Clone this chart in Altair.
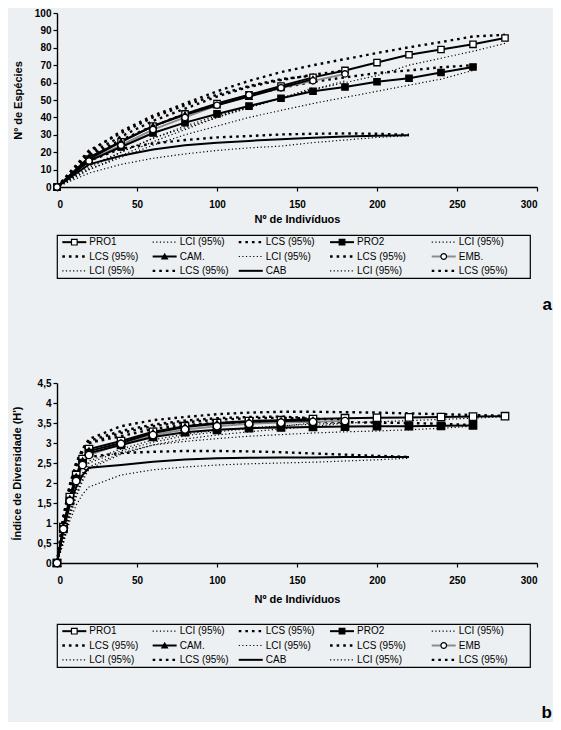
import altair as alt
import pandas as pd

FONT = "Liberation Sans"
BG = "#edf0f2"

# ---------------- panel a : number of species ----------------
a_x = [0, 20, 40, 60, 80, 100, 120, 140, 160, 180, 200, 220, 240, 260, 280]
a_pro1 = [0, 16, 26, 35, 42, 48, 53, 58, 63, 67, 71.5, 76, 79, 82, 85.6]
a_pro1_lci = [0, 11, 20, 28, 35, 41, 46, 51, 56, 60, 64, 70, 74, 78, 82.5]
a_pro1_lcs = [0, 20, 32, 41, 48, 55, 61, 66, 70, 73.5, 77, 80.3, 83.3, 86.5, 87.5]
a_pro2 = [0, 15, 23, 31, 37, 42, 46.5, 51, 55, 57.5, 60.5, 62.5, 65.8, 69]
a_pro2_lci = [0, 10, 17, 24, 30, 35, 40, 44, 48, 51.5, 55, 58.5, 62, 67]
a_pro2_lcs = [0, 18, 27, 35, 42, 47.5, 52.5, 57, 60.5, 63, 65.5, 67, 68.8, 70]
a_cam = [0, 17, 26, 35, 41.5, 47, 52, 57, 62]
a_cam_lci = [0, 12, 20, 28, 34, 40, 45.5, 51, 57]
a_cam_lcs = [0, 21, 31, 40, 47, 53, 58, 62, 64]
a_emb = [0, 15, 24, 33, 40, 47, 53, 57, 61, 65]
a_emb_lci = [0, 10, 18, 26, 33, 40, 46, 51, 56, 61]
a_emb_lcs = [0, 19, 29, 38, 45, 52, 57.5, 61.5, 64.5, 67]
a_cab = [0, 13, 18, 21.5, 24, 25.5, 26.5, 27.5, 28.3, 29, 29.4, 29.7]
a_cab_lci = [0, 8, 13, 16.5, 19, 21, 22.5, 23.5, 25.5, 27, 28.5, 29.5]
a_cab_lcs = [0, 15, 22, 25, 27, 28.5, 29.3, 30.2, 30.6, 30.8, 30.6, 30]

# ---------------- panel b : Shannon diversity ----------------
b_x = [0, 4, 8, 12, 16, 20, 40, 60, 80, 100, 120, 140, 160, 180, 200, 220, 240, 260, 280]
b_pro1 = [0, 0.9, 1.65, 2.2, 2.6, 2.85, 3.05, 3.28, 3.42, 3.5, 3.55, 3.57, 3.6, 3.62, 3.63, 3.64, 3.65, 3.66, 3.67]
b_pro1_lci = [0, 0.6, 1.3, 1.85, 2.25, 2.55, 2.85, 3.08, 3.22, 3.32, 3.38, 3.43, 3.47, 3.5, 3.53, 3.56, 3.59, 3.62, 3.66]
b_pro1_lcs = [0, 1.15, 1.95, 2.5, 2.85, 3.1, 3.42, 3.57, 3.65, 3.72, 3.76, 3.78, 3.78, 3.77, 3.76, 3.74, 3.72, 3.7, 3.68]
b_pro2 = [0, 0.85, 1.55, 2.1, 2.5, 2.75, 2.95, 3.15, 3.27, 3.33, 3.37, 3.39, 3.4, 3.41, 3.42, 3.42, 3.43, 3.44]
b_pro2_lci = [0, 0.55, 1.2, 1.7, 2.1, 2.4, 2.75, 2.95, 3.04, 3.11, 3.17, 3.21, 3.25, 3.28, 3.3, 3.33, 3.37, 3.42]
b_pro2_lcs = [0, 1.1, 1.9, 2.45, 2.8, 3.0, 3.17, 3.35, 3.45, 3.5, 3.52, 3.53, 3.53, 3.52, 3.51, 3.5, 3.48, 3.45]
b_cam = [0, 0.9, 1.6, 2.15, 2.55, 2.8, 3.0, 3.25, 3.4, 3.48, 3.53, 3.55, 3.56]
b_cam_lci = [0, 0.6, 1.25, 1.8, 2.2, 2.5, 2.8, 3.02, 3.18, 3.28, 3.36, 3.42, 3.5]
b_cam_lcs = [0, 1.15, 1.95, 2.5, 2.85, 3.05, 3.3, 3.46, 3.56, 3.62, 3.65, 3.66, 3.62]
b_emb = [0, 0.85, 1.55, 2.05, 2.45, 2.7, 2.98, 3.2, 3.34, 3.42, 3.48, 3.51, 3.53, 3.55]
b_emb_lci = [0, 0.5, 1.15, 1.65, 2.05, 2.35, 2.72, 2.95, 3.1, 3.2, 3.28, 3.35, 3.41, 3.5]
b_emb_lcs = [0, 1.1, 1.9, 2.4, 2.8, 3.0, 3.25, 3.42, 3.52, 3.58, 3.62, 3.63, 3.61, 3.58]
b_cab = [0, 0.8, 1.45, 1.9, 2.2, 2.38, 2.45, 2.53, 2.59, 2.62, 2.63, 2.64, 2.64, 2.65, 2.65, 2.65]
b_cab_lci = [0, 0.5, 1.05, 1.45, 1.72, 1.9, 2.2, 2.33, 2.4, 2.45, 2.48, 2.5, 2.52, 2.55, 2.58, 2.62]
b_cab_lcs = [0, 1.0, 1.8, 2.3, 2.55, 2.65, 2.75, 2.78, 2.8, 2.8, 2.79, 2.77, 2.74, 2.71, 2.68, 2.65]

# axis ticks
x_ticks = [0, 50, 100, 150, 200, 250, 300]
a_y_ticks = [0, 10, 20, 30, 40, 50, 60, 70, 80, 90, 100]
b_y_ticks = [0, 0.5, 1, 1.5, 2, 2.5, 3, 3.5, 4, 4.5]

# legend entries (row-major, 5 per row)
leg_series = ["PRO1", "PRO1", "PRO1", "PRO2", "PRO2",
              "PRO2", "CAM", "CAM", "CAM", "EMB",
              "EMB", "EMB", "CAB", "CAB", "CAB"]
leg_kinds = ["main", "lci", "lcs", "main", "lci",
             "lcs", "main", "lci", "lcs", "main",
             "lci", "lcs", "main", "lci", "lcs"]
leg_labels_a = ["PRO1", "LCI (95%)", "LCS (95%)", "PRO2", "LCI (95%)",
                "LCS (95%)", "CAM.", "LCI (95%)", "LCS (95%)", "EMB.",
                "LCI (95%)", "LCS (95%)", "CAB", "LCI (95%)", "LCS (95%)"]
leg_labels_b = ["PRO1", "LCI (95%)", "LCS (95%)", "PRO2", "LCI (95%)",
                "LCS (95%)", "CAM.", "LCI (95%)", "LCS (95%)", "EMB",
                "LCI (95%)", "LCS (95%)", "CAB", "LCI (95%)", "LCS (95%)"]


def long_df(xs, table):
    rows = []
    for name, kind, ys in table:
        for xv, yv in zip(xs, ys):
            rows.append({"x": xv, "y": yv, "series": name, "kind": kind})
    return pd.DataFrame(rows)


df_a = long_df(a_x, [
    ("PRO1", "main", a_pro1), ("PRO1", "lci", a_pro1_lci), ("PRO1", "lcs", a_pro1_lcs),
    ("PRO2", "main", a_pro2), ("PRO2", "lci", a_pro2_lci), ("PRO2", "lcs", a_pro2_lcs),
    ("CAM", "main", a_cam), ("CAM", "lci", a_cam_lci), ("CAM", "lcs", a_cam_lcs),
    ("EMB", "main", a_emb), ("EMB", "lci", a_emb_lci), ("EMB", "lcs", a_emb_lcs),
    ("CAB", "main", a_cab), ("CAB", "lci", a_cab_lci), ("CAB", "lcs", a_cab_lcs),
])
df_b = long_df(b_x, [
    ("PRO1", "main", b_pro1), ("PRO1", "lci", b_pro1_lci), ("PRO1", "lcs", b_pro1_lcs),
    ("PRO2", "main", b_pro2), ("PRO2", "lci", b_pro2_lci), ("PRO2", "lcs", b_pro2_lcs),
    ("CAM", "main", b_cam), ("CAM", "lci", b_cam_lci), ("CAM", "lcs", b_cam_lcs),
    ("EMB", "main", b_emb), ("EMB", "lci", b_emb_lci), ("EMB", "lcs", b_emb_lcs),
    ("CAB", "main", b_cab), ("CAB", "lci", b_cab_lci), ("CAB", "lcs", b_cab_lcs),
])

MARKERS = {
    "PRO1": ("square", "white"),
    "PRO2": ("square", "black"),
    "CAM": ("triangle-up", "black"),
    "EMB": ("circle", "white"),
}
LCI_STYLE = dict(color="black", strokeWidth=1.2, strokeDash=[1.2, 2.4])
LCS_STYLE = dict(color="black", strokeWidth=2.4, strokeDash=[2.6, 4])
EMB_GRAY = "#8c8c8c"


def panel(df, ydom, yvals, ytitle, label_expr, h, ytitle_pad, xtitle_pad, msize):
    x = alt.X("x:Q", scale=alt.Scale(domain=[0, 300], nice=False, zero=False),
              axis=alt.Axis(values=x_ticks, title="Nº de Indivíduos", labelPadding=8,
                            titlePadding=xtitle_pad))
    y = alt.Y("y:Q", scale=alt.Scale(domain=ydom, nice=False),
              axis=alt.Axis(values=yvals, title=ytitle, labelExpr=label_expr,
                            titlePadding=ytitle_pad))
    base = alt.Chart(df).encode(x=x, y=y)
    layers = [
        base.transform_filter("datum.kind == 'lci'").mark_line(**LCI_STYLE).encode(detail="series:N"),
        base.transform_filter("datum.kind == 'lcs'").mark_line(**LCS_STYLE).encode(detail="series:N"),
        base.transform_filter("datum.kind == 'main' && datum.series == 'EMB'").mark_line(
            color=EMB_GRAY, strokeWidth=2),
        base.transform_filter("datum.kind == 'main' && datum.series != 'EMB'").mark_line(
            color="black", strokeWidth=2).encode(detail="series:N"),
    ]
    for s, (shape, fill) in MARKERS.items():
        layers.append(
            base.transform_filter(f"datum.kind == 'main' && datum.series == '{s}'").mark_point(
                shape=shape, filled=True, fill=fill, stroke="black", strokeWidth=1.3,
                size=msize, opacity=1)
        )
    return alt.layer(*layers).properties(width=480, height=h)


LEG_W = 473
LEG_H = 43
COL_FRAC = [0.007, 0.198, 0.38, 0.573, 0.788]


def legend(labels, title_txt, title_offset):
    rows = []
    for i, (lab, ser, kind) in enumerate(zip(labels, leg_series, leg_kinds)):
        c, r = i % 5, i // 5
        x0 = COL_FRAC[c] * LEG_W + 2
        rows.append(dict(x0=x0, x1=x0 + 24, xm=x0 + 12, xt=x0 + 27, row=r,
                         label=lab, series=ser, kind=kind))
    ldf = pd.DataFrame(rows)
    xs = alt.Scale(domain=[0, LEG_W], nice=False, zero=False)
    ys = alt.Scale(domain=[2.5, -0.5], nice=False, zero=False)
    base = alt.Chart(ldf)
    y = alt.Y("row:Q", scale=ys, axis=None)
    rule_enc = dict(x=alt.X("x0:Q", scale=xs, axis=None), x2="x1:Q", y=y)
    layers = [
        base.transform_filter("datum.kind == 'lci'").mark_rule(**LCI_STYLE).encode(**rule_enc),
        base.transform_filter("datum.kind == 'lcs'").mark_rule(**LCS_STYLE).encode(**rule_enc),
        base.transform_filter("datum.kind == 'main' && datum.series == 'EMB'").mark_rule(
            color=EMB_GRAY, strokeWidth=2).encode(**rule_enc),
        base.transform_filter("datum.kind == 'main' && datum.series != 'EMB'").mark_rule(
            color="black", strokeWidth=2).encode(**rule_enc),
    ]
    for s, (shape, fill) in MARKERS.items():
        layers.append(
            base.transform_filter(f"datum.kind == 'main' && datum.series == '{s}'").mark_point(
                shape=shape, filled=True, fill=fill, stroke="black", strokeWidth=1.2,
                size=32, opacity=1).encode(x=alt.X("xm:Q", scale=xs, axis=None), y=y)
        )
    layers.append(
        base.mark_text(align="left", baseline="middle", font=FONT, fontSize=10,
                       color="black").encode(x=alt.X("xt:Q", scale=xs, axis=None), y=y,
                                             text="label:N")
    )
    return alt.layer(*layers).properties(
        width=LEG_W, height=LEG_H,
        view=alt.ViewBackground(stroke="black", strokeWidth=1.2, fill=BG),
        title=alt.TitleParams(title_txt, orient="bottom", anchor="end", font=FONT,
                              fontSize=17, fontWeight="bold", color="black",
                              offset=title_offset, dx=22),
    )


panel_a = panel(df_a, [0, 100], a_y_ticks, "Nº de Espécies", "datum.label", 174, 11, 4, 40)
panel_b = panel(df_b, [0, 4.5], b_y_ticks, "Índice de Diversidade (H')",
                "replace(format(datum.value, '.1~f'), '.', ',')", 180, 14.5, 8, 55)

top = alt.vconcat(panel_a, legend(leg_labels_a, "a", 19), spacing=10)
bottom = alt.vconcat(panel_b, legend(leg_labels_b, "b", 38), spacing=19)

chart = alt.vconcat(top, bottom, spacing=64).properties(
    padding={"left": 3, "top": 0, "right": 0, "bottom": 0},
    background=BG,
).configure_view(strokeWidth=0).configure_axis(
    grid=False, domainColor="black", domainWidth=1.4, tickColor="black", tickSize=4,
    tickWidth=1.2, labelFont=FONT, labelFontSize=10, labelFontWeight="bold",
    labelColor="black", labelPadding=2, titleFont=FONT, titleFontSize=11,
    titleFontWeight="bold", titleColor="black",
)

chart.save("out.html", embed_options={"renderer": "svg", "actions": False})
